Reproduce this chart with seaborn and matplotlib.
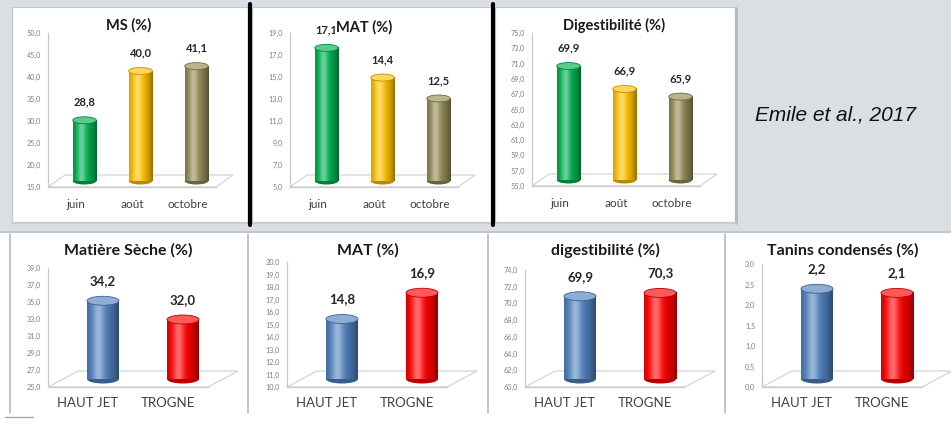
import numpy as np
import matplotlib
matplotlib.use("Agg")
import matplotlib.pyplot as plt
import seaborn as sns
from matplotlib.patches import Rectangle, Ellipse, Polygon
from matplotlib.lines import Line2D
from matplotlib.colors import to_rgb

W, H, DPI = 951, 421, 100

# ---------------- data ----------------
saisons = ["juin", "août", "octobre"]
ms_saison = [28.8, 40.0, 41.1]
mat_saison = [17.1, 14.4, 12.5]
dig_saison = [69.9, 66.9, 65.9]
couleurs_saison = ["#00b050", "#ffc000", "#948a54"]
titres_saison = ["MS (%)", "MAT (%)", "Digestibilité (%)"]
ticks_ms_saison = [15, 20, 25, 30, 35, 40, 45, 50]
ticks_mat_saison = [5, 7, 9, 11, 13, 15, 17, 19]
ticks_dig_saison = [55, 57, 59, 61, 63, 65, 67, 69, 71, 73, 75]

conduites = ["HAUT JET", "TROGNE"]
ms_conduite = [34.2, 32.0]
mat_conduite = [14.8, 16.9]
dig_conduite = [69.9, 70.3]
tanins_conduite = [2.2, 2.1]
couleurs_conduite = ["#4f81bd", "#ff0000"]
titres_conduite = ["Matière Sèche (%)", "MAT (%)", "digestibilité (%)", "Tanins condensés (%)"]
ticks_ms_conduite = [25, 27, 29, 31, 33, 35, 37, 39]
ticks_mat_conduite = [10, 11, 12, 13, 14, 15, 16, 17, 18, 19, 20]
ticks_dig_conduite = [60, 62, 64, 66, 68, 70, 72, 74]
ticks_tanins_conduite = [0.0, 0.5, 1.0, 1.5, 2.0, 2.5, 3.0]

citation = "Emile et al., 2017"

sns.set_theme(style="white")
plt.rcParams["font.family"] = ["Lato", "DejaVu Sans"]

fig = plt.figure(figsize=(W / DPI, H / DPI), dpi=DPI)
fig.patch.set_facecolor("white")


def fx(x):
    return x / W


def fy(y):
    return 1 - y / H


def add_rect(x0, y0, x1, y1, **kw):
    r = Rectangle((fx(x0), fy(y1)), fx(x1 - x0), (y1 - y0) / H,
                  transform=fig.transFigure, **kw)
    fig.add_artist(r)
    return r


def add_line(xs, ys, **kw):
    ln = Line2D([fx(v) for v in xs], [fy(v) for v in ys],
                transform=fig.transFigure, **kw)
    fig.add_artist(ln)
    return ln


def fmt(v):
    return f"{v:.1f}".replace(".", ",")


# ---------------- page background ----------------
add_rect(0, 0, W, 231, facecolor="#d9dfe2", edgecolor="none", zorder=-6)
add_line([0, W], [231.5, 231.5], color="#b8bcbf", lw=1.2, zorder=-5)
for (x0, x1) in [(12, 248), (252, 492), (495, 735)]:
    add_rect(x0, 7, x1, 222, facecolor="white", edgecolor="#c4c8ca",
             lw=0.9, zorder=-5)
add_line([735.5, 735.5], [8, 223], color="#b4b8ba", lw=2.0, zorder=-5)
add_line([12, 736], [223, 223], color="#c8ccce", lw=1.5, zorder=-5)
for xb in [250, 493]:
    add_line([xb, xb], [4, 225], color="black", lw=3.0, zorder=-4)

for xb in [10, 248, 488, 725]:
    add_line([xb, xb], [234, 413], color="#b4b4b4", lw=1.1, zorder=-5)
add_line([5, 33], [417, 417], color="#a8a8a8", lw=1.0, zorder=-5)


# ---------------- cylinder bars ----------------
def cylinder(ax, patch, color, ell_px, ax_h_px, lo, hi):
    x, w = patch.get_x(), patch.get_width()
    top = patch.get_y() + patch.get_height()
    y0 = max(patch.get_y(), lo)
    base = np.array(to_rgb(color))
    t = np.linspace(0, 1, 80)
    light = 0.42 * np.exp(-((t - 0.36) / 0.17) ** 2)
    dark = 0.42 * np.clip(np.abs(t - 0.38) / 0.62, 0, 1) ** 2
    cols = base[None, :] * (1 - dark[:, None])
    cols = cols + (1 - cols) * light[:, None]
    ax.imshow(cols[None, :, :], extent=(x, x + w, y0, top),
              aspect="auto", interpolation="bilinear", zorder=3)
    e = (hi - lo) / ax_h_px * ell_px
    ax.add_patch(Ellipse((x + w / 2, y0), w, e, facecolor=base * 0.72,
                         edgecolor="none", zorder=2.5, clip_on=False))
    top_col = base + (1 - base) * 0.35
    ax.add_patch(Ellipse((x + w / 2, top), w, e, facecolor=top_col,
                         edgecolor=base * 0.75, lw=0.6, zorder=4,
                         clip_on=False))


def panel(frame, depth, cats, vals, colors, ticks, title, title_xy,
          title_size, bar_width, ell_px, val_size, val_off, cat_size,
          cat_pad, tick_size):
    L, T, R, B = frame
    dx, dy = depth
    lo, hi = ticks[0], ticks[-1]
    n = len(cats)

    # floor of the 3-D box
    floor = Polygon([(fx(L), fy(B)), (fx(R), fy(B)),
                     (fx(R + dx), fy(B - dy)), (fx(L + dx), fy(B - dy))],
                    closed=True, transform=fig.transFigure,
                    facecolor="white", edgecolor="#d4d4d4", lw=0.9, zorder=-1)
    fig.add_artist(floor)

    # front axes: value scale and category labels
    fax = fig.add_axes([fx(L), fy(B), fx(R - L), (B - T) / H])
    fax.set_facecolor("none")
    fax.set_ylim(lo, hi)
    fax.set_xlim(-0.5, n - 0.5)
    fax.set_yticks(ticks)
    fax.set_yticklabels([fmt(v) for v in ticks], fontsize=tick_size,
                        color="#7f7f7f")
    fax.set_xticks(range(n))
    fax.set_xticklabels(cats, fontsize=cat_size, color="#404040")
    fax.set_xticks([i + 0.5 for i in range(n)], minor=True)
    fax.tick_params(axis="x", which="major", length=0, pad=cat_pad)
    fax.tick_params(axis="x", which="minor", length=3, color="#bfbfbf",
                    direction="out")
    fax.tick_params(axis="y", length=3, color="#bfbfbf", direction="out",
                    pad=2)
    for s in ["top", "right"]:
        fax.spines[s].set_visible(False)
    for s in ["left", "bottom"]:
        fax.spines[s].set_color("#c8c8c8")
        fax.spines[s].set_linewidth(0.9)

    # bar plane, set back half the depth of the box
    bL, bB = L + dx / 2, B - dy / 2
    bax = fig.add_axes([fx(bL), fy(bB), fx(R - L), (B - T) / H])
    bax.set_facecolor("none")
    sns.barplot(x=cats, y=vals, hue=cats, palette=colors, legend=False,
                width=bar_width, saturation=1, ax=bax)
    ax_h_px = B - T
    for patch, c, v in zip(bax.patches, colors, vals):
        patch.set_edgecolor("none")
        cylinder(bax, patch, c, ell_px, ax_h_px, lo, hi)
        bax.annotate(fmt(v), (patch.get_x() + patch.get_width() / 2, v),
                     xytext=(0, val_off), textcoords="offset points",
                     ha="center", va="center", fontsize=val_size,
                     fontweight="bold", color="#262626", zorder=5,
                     annotation_clip=False)
    bax.set_xlim(-0.5, n - 0.5)
    bax.set_ylim(lo, hi)
    bax.axis("off")

    fig.text(fx(title_xy[0]), fy(title_xy[1]), title, ha="center",
             va="center", fontsize=title_size, fontweight="bold",
             color="#1a1a1a", zorder=10,
             bbox=dict(facecolor="white", edgecolor="none", pad=0.5))


# top row: season comparison
top_frames = [(48, 33, 216, 187), (290, 33, 458, 187), (532, 33, 700, 186)]
top_vals = [ms_saison, mat_saison, dig_saison]
top_ticks = [ticks_ms_saison, ticks_mat_saison, ticks_dig_saison]
top_title_xy = [(129, 25), (364, 27), (614, 25)]
for fr, v, tk, ti, txy in zip(top_frames, top_vals, top_ticks,
                              titres_saison, top_title_xy):
    panel(fr, (17, 12), saisons, v, couleurs_saison, tk, ti, txy,
          10.5, 0.42, 7, 8, 13, 8.5, 9, 5.2)

# bottom row: tree management comparison
bot_frames = [(48, 268, 208, 387), (287, 262, 447, 387),
              (525, 270, 685, 387), (762, 264, 922, 387)]
bot_vals = [ms_conduite, mat_conduite, dig_conduite, tanins_conduite]
bot_ticks = [ticks_ms_conduite, ticks_mat_conduite, ticks_dig_conduite,
             ticks_tanins_conduite]
bot_title_xy = [(128, 250), (368, 250), (605, 250), (843, 250)]
for fr, v, tk, ti, txy in zip(bot_frames, bot_vals, bot_ticks,
                              titres_conduite, bot_title_xy):
    panel(fr, (30, 16), conduites, v, couleurs_conduite, tk, ti, txy,
          11.5, 0.4, 9, 9.5, 14, 9.5, 7, 5.2)

fig.text(fx(755), fy(115), citation, ha="left", va="center", fontsize=15,
         style="italic", family=["Liberation Sans", "DejaVu Sans"],
         color="#111111")

fig.savefig("out.png", dpi=DPI, facecolor=fig.get_facecolor())
